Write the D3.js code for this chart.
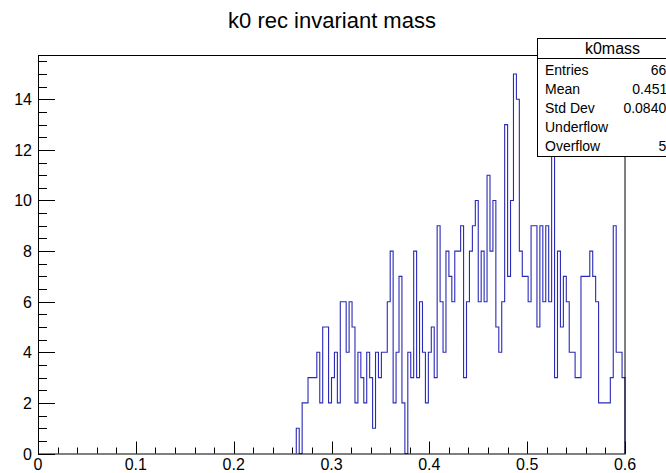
<!DOCTYPE html>
<html>
<head>
<meta charset="utf-8">
<script src="https://cdn.jsdelivr.net/npm/d3@7/dist/d3.min.js"></script>
<style>
  html, body { margin: 0; padding: 0; background: #fff; }
  svg { display: block; font-family: "Liberation Sans", Arial, Helvetica, sans-serif; }
</style>
</head>
<body>
<svg id="chart" width="666" height="473"></svg>
<script>
// ---- data ----
const chartTitle = "k0 rec invariant mass";
const histName = "k0mass";
const xDomain = [0, 0.6];
const yDomain = [0, 15.75];
const binWidth = 0.003;
const firstBinLow = 0.264;   // all bins below are empty
const counts = [
  1, 0, 2, 2, 3, 3, 3, 4, 2, 5, 5, 2,          // 0.264 - 0.300
  3, 4, 2, 6, 6, 4, 6, 5, 2, 4,                // 0.300 - 0.330
  3, 2, 4, 3, 1, 4, 3, 4, 4, 6,                // 0.330 - 0.360
  8, 2, 4, 7, 2, 0, 4, 3, 8, 3,                // 0.360 - 0.390
  6, 4, 2, 4, 5, 3, 9, 6, 4, 8,                // 0.390 - 0.420
  7, 6, 8, 8, 9, 3, 6, 8, 9, 10,               // 0.420 - 0.450
  6, 8, 6, 11, 8, 10, 5, 4, 6, 13,             // 0.450 - 0.480
  7, 10, 15, 14, 8, 7, 7, 6, 9, 9,             // 0.480 - 0.510
  5, 9, 6, 9, 6, 13, 3, 8, 5, 7,               // 0.510 - 0.540
  6, 4, 4, 3, 3, 7, 7, 7, 8, 7,                // 0.540 - 0.570
  6, 2, 2, 2, 2, 3, 9, 4, 4, 3                 // 0.570 - 0.600
];
const xTickValues = [0, 0.1, 0.2, 0.3, 0.4, 0.5, 0.6];
const xTickLabels = ["0", "0.1", "0.2", "0.3", "0.4", "0.5", "0.6"];
const yTickValues = [0, 2, 4, 6, 8, 10, 12, 14];
const yTickLabels = ["0", "2", "4", "6", "8", "10", "12", "14"];
const statLabels = ["Entries", "Mean", "Std Dev", "Underflow", "Overflow"];
const statValues = ["665", "0.4511", "0.08402", "0", "58"];

// ---- layout ----
const svg = d3.select("#chart");
const frame = { left: 38, right: 625, top: 55, bottom: 453.5 };
const x = d3.scaleLinear().domain(xDomain).range([frame.left, frame.right]);
const y = d3.scaleLinear().domain(yDomain).range([frame.bottom, frame.top]);
const lineColor = "#2a2ab8";

// histogram outline
const pts = [{ v: firstBinLow, c: 0 }];
counts.forEach((c, i) => pts.push({ v: firstBinLow + i * binWidth, c }));
const lastHigh = firstBinLow + counts.length * binWidth;
pts.push({ v: lastHigh, c: counts[counts.length - 1] });
pts.push({ v: lastHigh, c: 0 });

const line = d3.line()
  .x(d => x(d.v))
  .y(d => y(d.c))
  .curve(d3.curveStepAfter);

svg.append("path")
  .attr("d", line(pts))
  .attr("fill", "none")
  .attr("stroke", lineColor)
  .attr("stroke-width", 1.1);

// frame
svg.append("rect")
  .attr("x", frame.left + 0.5).attr("y", frame.top + 0.5)
  .attr("width", frame.right - frame.left - 0.5)
  .attr("height", frame.bottom - frame.top)
  .attr("fill", "none").attr("stroke", "#000").attr("stroke-width", 1);

// x axis ticks
const xMinor = d3.range(0, 31).map(i => i * 0.02);
const gx = svg.append("g");
gx.selectAll("line.minor").data(xMinor).join("line")
  .attr("x1", d => Math.round(x(d)) + 0.5).attr("x2", d => Math.round(x(d)) + 0.5)
  .attr("y1", frame.bottom).attr("y2", frame.bottom - 6)
  .attr("stroke", "#000");
gx.selectAll("line.major").data(xTickValues).join("line")
  .attr("x1", d => Math.round(x(d)) + 0.5).attr("x2", d => Math.round(x(d)) + 0.5)
  .attr("y1", frame.bottom).attr("y2", frame.bottom - 12)
  .attr("stroke", "#000");
gx.selectAll("text").data(xTickValues).join("text")
  .attr("x", d => x(d)).attr("y", 470)
  .attr("text-anchor", "middle")
  .attr("font-size", 16)
  .text((d, i) => xTickLabels[i]);

// y axis ticks
const yMinor = d3.range(0, 32).map(i => i * 0.5);
const gy = svg.append("g");
gy.selectAll("line.minor").data(yMinor).join("line")
  .attr("y1", d => Math.round(y(d)) + 0.5).attr("y2", d => Math.round(y(d)) + 0.5)
  .attr("x1", frame.left).attr("x2", frame.left + 9)
  .attr("stroke", "#000");
gy.selectAll("line.major").data(yTickValues).join("line")
  .attr("y1", d => Math.round(y(d)) + 0.5).attr("y2", d => Math.round(y(d)) + 0.5)
  .attr("x1", frame.left).attr("x2", frame.left + 17)
  .attr("stroke", "#000");
gy.selectAll("text").data(yTickValues).join("text")
  .attr("x", 32).attr("y", d => y(d) + 6)
  .attr("text-anchor", "end")
  .attr("font-size", 16)
  .text((d, i) => yTickLabels[i]);

// title
svg.append("text")
  .attr("x", 332).attr("y", 28)
  .attr("text-anchor", "middle")
  .attr("font-size", 22)
  .text(chartTitle);

// stats box
const box = { x: 537.5, y: 38.5, w: 150, h: 118 };
svg.append("rect")
  .attr("x", box.x).attr("y", box.y).attr("width", box.w).attr("height", box.h)
  .attr("fill", "#fff").attr("stroke", "#000");
svg.append("line")
  .attr("x1", box.x).attr("x2", box.x + box.w)
  .attr("y1", 58.5).attr("y2", 58.5).attr("stroke", "#000");
svg.append("text")
  .attr("x", box.x + box.w / 2).attr("y", 54)
  .attr("text-anchor", "middle").attr("font-size", 16)
  .text(histName);
statLabels.forEach((lab, i) => {
  svg.append("text").attr("x", 545).attr("y", 75 + i * 19)
    .attr("font-size", 14).text(lab);
  svg.append("text").attr("x", 674).attr("y", 75 + i * 19)
    .attr("text-anchor", "end").attr("font-size", 14).text(statValues[i]);
});
</script>
</body>
</html>
